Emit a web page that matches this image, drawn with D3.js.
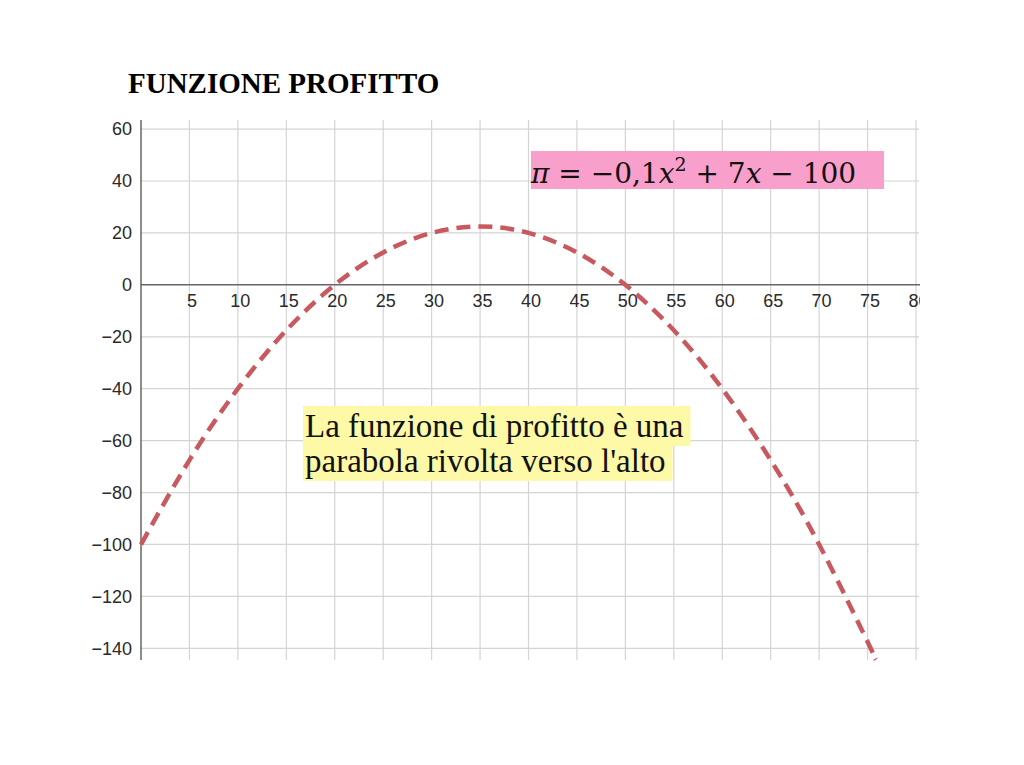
<!DOCTYPE html>
<html>
<head>
<meta charset="utf-8">
<script src="https://cdn.jsdelivr.net/npm/d3@7"></script>
<style>
  body { margin: 0; background: #fff; }
  svg { display: block; }
</style>
</head>
<body>
<svg></svg>
<script>
var WIDTH = 1024;
var HEIGHT = 765;

// values
var xValues = [0, 5, 10, 15, 20, 25, 30, 35, 40, 45, 50, 55, 60, 65, 70, 75, 75.8];
var profitValues = [-100, -67.5, -40, -17.5, 0, 12.5, 20, 22.5, 20, 12.5, 0, -17.5, -40, -67.5, -100, -137.5, -144];
var xTicks = [5, 10, 15, 20, 25, 30, 35, 40, 45, 50, 55, 60, 65, 70, 75, 80];
var yTicks = [-140, -120, -100, -80, -60, -40, -20, 0, 20, 40, 60];
var noteLines = ["La funzione di profitto è una", "parabola rivolta verso l'alto"];

var svg = d3.select('svg')
  .attr('width', WIDTH)
  .attr('height', HEIGHT);

var xScale = d3.scaleLinear().domain([0, 80]).range([141, 916]);
var yScale = d3.scaleLinear().domain([-144.5, 63.5]).range([660, 120]);

// the right edge of the plot cuts the last tick label
svg.append('clipPath')
  .attr('id', 'plotclip')
  .append('rect')
  .attr('x', 0).attr('y', 0)
  .attr('width', 920).attr('height', HEIGHT);

// grid
svg.append('g')
  .selectAll('line')
  .data(xTicks)
  .enter()
  .append('line')
  .attr('x1', function(d) { return xScale(d); })
  .attr('x2', function(d) { return xScale(d); })
  .attr('y1', yScale(63.5))
  .attr('y2', yScale(-144.5))
  .attr('stroke', '#d4d4d4')
  .attr('stroke-width', 1.2);

svg.append('g')
  .selectAll('line')
  .data(yTicks.filter(function(d) { return d !== 0; }))
  .enter()
  .append('line')
  .attr('x1', xScale(0))
  .attr('x2', 919)
  .attr('y1', function(d) { return yScale(d); })
  .attr('y2', function(d) { return yScale(d); })
  .attr('stroke', '#d4d4d4')
  .attr('stroke-width', 1.2);

// axes
var xAxis = d3.axisBottom(xScale)
  .tickValues(xTicks)
  .tickSize(0)
  .tickPadding(9)
  .tickFormat(d3.format('d'));

var yAxis = d3.axisLeft(yScale)
  .tickValues(yTicks)
  .tickSize(0)
  .tickPadding(9)
  .tickFormat(function(d) { return d < 0 ? '\u2212' + Math.abs(d) : d; });

var gx = svg.append('g')
  .attr('clip-path', 'url(#plotclip)')
  .append('g')
  .attr('transform', 'translate(0,' + yScale(0) + ')')
  .call(xAxis);
gx.select('.domain').remove();
gx.append('line')
  .attr('x1', xScale(0)).attr('x2', 920)
  .attr('stroke', '#666').attr('stroke-width', 1.5);
gx.selectAll('.tick text').attr('dx', 2);

var gy = svg.append('g')
  .attr('transform', 'translate(' + xScale(0) + ',0)')
  .call(yAxis);
gy.select('.domain').remove();
gy.append('line')
  .attr('y1', yScale(63.5)).attr('y2', yScale(-144.5))
  .attr('stroke', '#666').attr('stroke-width', 1.5);

svg.selectAll('.tick text')
  .attr('font-family', 'Liberation Sans, Arial, sans-serif')
  .attr('font-size', 18)
  .attr('fill', '#2a2a2a');

// curve
var points = xValues.map(function(x, i) { return [x, profitValues[i]]; });
var line = d3.line()
  .x(function(d) { return xScale(d[0]); })
  .y(function(d) { return yScale(d[1]); })
  .curve(d3.curveNatural);

svg.append('path')
  .datum(points)
  .attr('d', line)
  .attr('fill', 'none')
  .attr('stroke', '#c85a5f')
  .attr('stroke-width', 4.5)
  .attr('stroke-dasharray', '14,8');

// title
svg.append('text')
  .attr('x', 128)
  .attr('y', 93)
  .attr('font-family', 'Liberation Serif, serif')
  .attr('font-weight', 'bold')
  .attr('font-size', 29)
  .text('FUNZIONE PROFITTO');

// formula box
svg.append('rect')
  .attr('x', 531).attr('y', 151)
  .attr('width', 353).attr('height', 38)
  .attr('fill', '#f99fcb');

var formula = svg.append('text')
  .attr('x', 531)
  .attr('y', 183)
  .attr('font-family', 'DejaVu Serif, serif')
  .attr('font-size', 28)
  .attr('fill', '#111');
formula.append('tspan').attr('font-style', 'italic').text('\u03c0');
formula.append('tspan').text(' = \u22120,1');
formula.append('tspan').attr('font-style', 'italic').text('x');
formula.append('tspan').attr('dy', -12).attr('font-size', 19).text('2');
formula.append('tspan').attr('dy', 12).text(' + 7');
formula.append('tspan').attr('font-style', 'italic').text('x');
formula.append('tspan').text(' \u2212 100');

// note
var note = svg.append('g');
noteLines.forEach(function(t, i) {
  var base = 437 + i * 35;
  var txt = note.append('text')
    .attr('x', 305)
    .attr('y', base)
    .attr('font-family', 'Liberation Serif, serif')
    .attr('font-size', 33)
    .attr('fill', '#111')
    .text(t);
  var w = txt.node().getComputedTextLength();
  note.insert('rect', 'text')
    .attr('x', 303)
    .attr('y', base - 31)
    .attr('width', w + 9)
    .attr('height', 40)
    .attr('fill', '#fdf9a6');
});
</script>
</body>
</html>
